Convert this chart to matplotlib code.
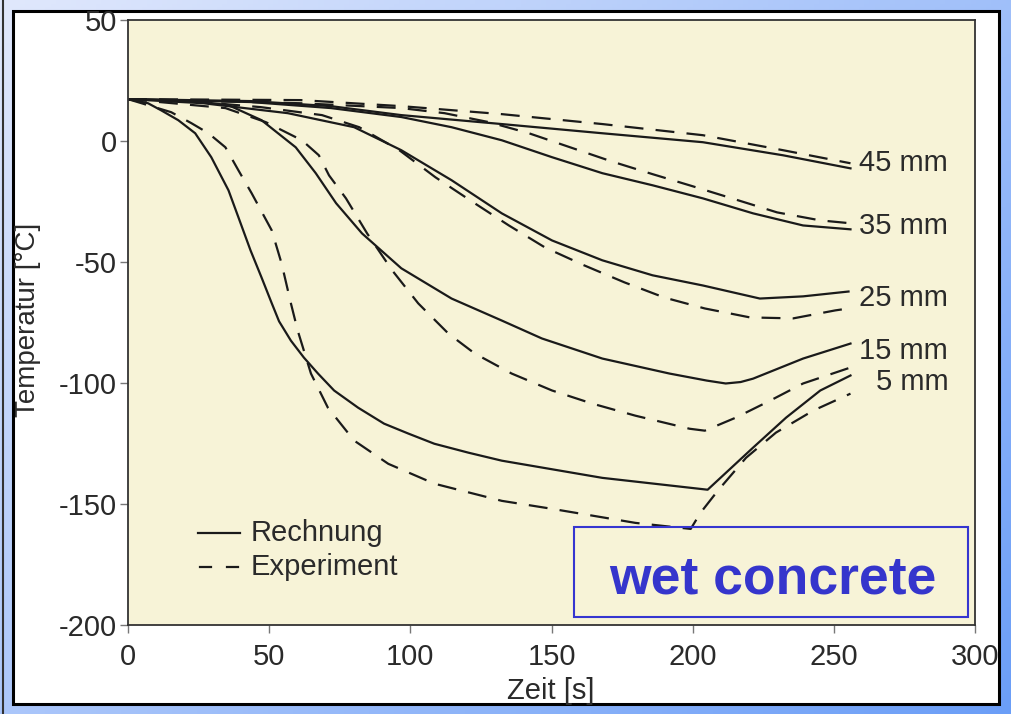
import numpy as np
import matplotlib
matplotlib.use("Agg")
import matplotlib.pyplot as plt
from matplotlib.patches import Rectangle

plt.rcParams['font.family'] = ['Liberation Sans', 'DejaVu Sans']

# ---- data ----
t_calc_5 = [0, 7.1, 11.7, 17.8, 23.8, 29.5, 35.6, 39.1, 43.4, 47.3, 50.9, 53.5, 57.7, 62.3, 67.3, 73, 81.5, 90.7, 99.3, 108.5, 120.6, 132.4, 168, 205.3, 221.4, 233.1, 245.2, 255.9]
T_calc_5 = [17.3, 15.6, 12.7, 8.6, 3.2, -6.7, -20.4, -31.5, -45.2, -56.4, -67.0, -74.5, -82.5, -89.5, -96.1, -103.1, -110.2, -116.8, -120.9, -125.1, -128.8, -132.1, -139.2, -144.1, -126.7, -114.3, -103.1, -96.9]

t_exp_5 = [0, 15.3, 22.4, 28.5, 34.5, 39.1, 43.8, 50.9, 54.4, 57.7, 60.1, 64.8, 70.8, 80.1, 92.2, 108.5, 132.4, 150.2, 179.7, 199.3, 202.8, 208.9, 218.9, 229.5, 242.7, 255.9]
T_exp_5 = [17.3, 11.9, 7.4, 3.2, -2.6, -12.1, -21.6, -36.9, -50.6, -67.1, -78.3, -96.1, -110.2, -123.8, -133.4, -141.6, -148.7, -152.0, -157.8, -160.3, -153.6, -144.5, -130.9, -120.5, -111.4, -104.4]

t_calc_15 = [0, 23.8, 35.6, 47.3, 59.4, 66.5, 73.7, 82.9, 96.8, 114.6, 132.4, 146.6, 168.0, 191.8, 205.0, 211.7, 217.0, 221.4, 239.1, 255.9]
T_calc_15 = [17.3, 16.5, 14.8, 8.6, -2.6, -13.3, -25.7, -38.2, -52.6, -65.1, -74.2, -81.6, -89.9, -96.1, -99.0, -100.2, -99.6, -98.2, -89.9, -83.7]

t_exp_15 = [0, 34.5, 48.8, 61.6, 67.6, 71.2, 77.2, 84.7, 93.6, 102.8, 113.5, 122.8, 135.9, 150.2, 164.4, 179.7, 198.9, 204.3, 215.3, 227.4, 239.1, 255.9]
T_exp_15 = [17.3, 13.6, 7.8, 0.3, -5.9, -14.2, -23.7, -38.2, -53.5, -67.1, -79.6, -87.8, -96.1, -103.1, -108.5, -113.5, -118.9, -119.7, -114.3, -107.3, -100.2, -93.6]

t_calc_25 = [0, 26.7, 56.6, 80.1, 96.8, 114.6, 132.4, 150.2, 168.0, 185.8, 203.6, 223.8, 239.1, 255.2]
T_calc_25 = [17.3, 15.6, 11.5, 5.7, -3.8, -16.2, -29.9, -41.1, -49.3, -55.5, -59.7, -65.1, -64.2, -62.2]

t_exp_25 = [0, 25.6, 47.0, 68.7, 81.9, 96.1, 108.9, 121.7, 134.9, 147.7, 161.6, 175.8, 190.0, 204.3, 220.3, 235.6, 250.5, 255.2]
T_exp_25 = [17.3, 16.1, 14.0, 10.7, 5.7, -3.8, -15.0, -24.9, -34.9, -44.0, -51.4, -58.4, -64.7, -69.2, -72.9, -73.3, -70.0, -69.2]

t_calc_35 = [0, 43.4, 71.9, 96.8, 114.6, 132.4, 150.2, 168.0, 185.8, 203.6, 221.4, 239.1, 255.9]
T_calc_35 = [17.3, 16.1, 13.6, 9.9, 5.7, 0.3, -6.7, -13.3, -18.3, -23.7, -29.9, -34.9, -36.5]

t_exp_35 = [0, 61.2, 96.8, 112.1, 127.8, 142.0, 156.6, 171.2, 185.8, 200.0, 215.0, 229.9, 245.2, 255.9]
T_exp_35 = [17.3, 15.6, 13.6, 11.5, 7.8, 3.2, -2.6, -8.4, -13.7, -18.7, -24.1, -29.5, -32.8, -34.0]

t_calc_45 = [0, 43.4, 71.9, 96.8, 132.4, 168, 203.6, 232.0, 255.9]
T_calc_45 = [17.3, 16.5, 14.4, 10.7, 7.0, 3.2, -0.5, -5.9, -11.3]

t_exp_45 = [0, 61.2, 96.8, 132.4, 168.0, 203.6, 232.0, 255.9]
T_exp_45 = [17.3, 16.9, 14.4, 11.1, 7.0, 2.4, -3.8, -9.2]

depth_labels = ['45 mm', '35 mm', '25 mm', '15 mm', '5 mm']
label_y = [-9.2, -35.3, -64.7, -86.6, -99.4]

legend_labels = ['Rechnung', 'Experiment']

x_ticks = [0, 50, 100, 150, 200, 250, 300]
y_ticks = [50, 0, -50, -100, -150, -200]

# ---- figure ----
W, H = 1011, 714
fig = plt.figure(figsize=(W / 100, H / 100), dpi=100)

# gradient background
bg = fig.add_axes([0, 0, 1, 1], zorder=-10)
bg.set_axis_off()
xx, yy = np.meshgrid(np.linspace(0, 1, 200), np.linspace(0, 1, 200))
g = np.clip(0.55 * xx + 0.45 * yy, 0, 1)
c0 = np.array([0.88, 0.91, 0.99])
c1 = np.array([0.42, 0.62, 0.97])
img = c0[None, None, :] * (1 - g[..., None]) + c1[None, None, :] * g[..., None]
bg.imshow(img, extent=[0, 1, 0, 1], aspect='auto', origin='upper')
bg.set_xlim(0, 1)
bg.set_ylim(0, 1)
bg.add_patch(Rectangle((13 / W, 1 - 704 / H), (999 - 13) / W, (704 - 11) / H,
                       facecolor='white', edgecolor='black', lw=2.2, zorder=2))
bg.plot([3 / W, 3 / W], [0, 1], color='#333333', lw=1.5, zorder=3)

ax = fig.add_axes([128 / W, 1 - 625 / H, (975 - 128) / W, (625 - 20) / H])
ax.set_facecolor('#f7f3d7')
ax.set_xlim(0, 300)
ax.set_ylim(-200, 50)

FS = 21
TXT = '#2a2a2a'
lw = 1.6
dash = (0, (8.5, 5.5))
series = [(t_calc_5, T_calc_5, t_exp_5, T_exp_5),
          (t_calc_15, T_calc_15, t_exp_15, T_exp_15),
          (t_calc_25, T_calc_25, t_exp_25, T_exp_25),
          (t_calc_35, T_calc_35, t_exp_35, T_exp_35),
          (t_calc_45, T_calc_45, t_exp_45, T_exp_45)]
for tc, Tc, te, Te in series:
    ax.plot(tc, Tc, color='#1a1a1a', lw=lw, solid_joinstyle='round')
    ax.plot(te, Te, color='#1a1a1a', lw=lw, ls=dash)

for lab, yv in zip(depth_labels, label_y):
    ax.text(290.5, yv, lab, ha='right', va='center', fontsize=FS, color=TXT)

ax.set_xticks(x_ticks)
ax.set_yticks(y_ticks)
ax.set_xticklabels([str(v) for v in x_ticks])
ax.set_yticklabels([str(v) for v in y_ticks])
ax.tick_params(direction='out', length=6, width=1, color='#777777',
               labelsize=FS, labelcolor=TXT)
ax.tick_params(axis='x', pad=7)
ax.tick_params(axis='y', pad=2)
for s in ax.spines.values():
    s.set_color('#333333')
    s.set_linewidth(1.3)

ax.set_xlabel('Zeit [s]', fontsize=FS, color=TXT)
ax.set_ylabel('Temperatur [°C]', fontsize=20, color=TXT)
ax.xaxis.set_label_coords((551 - 128) / 847, (625 - 691) / 605)
ax.yaxis.set_label_coords((28 - 128) / 847, (625 - 320) / 605)
ax.xaxis.label.set_va('center')
ax.yaxis.label.set_va('center')

# legend (drawn in axes coordinates)
tr = ax.transAxes
y_leg = [(625 - 533) / 605, (625 - 567) / 605]
x0, x1 = (198 - 128) / 847, (240 - 128) / 847
ax.plot([x0, x1], [y_leg[0]] * 2, transform=tr, color='#1a1a1a', lw=lw)
ax.plot([(200 - 128) / 847, (211 - 128) / 847], [y_leg[1]] * 2, transform=tr, color='#1a1a1a', lw=lw)
ax.plot([(227 - 128) / 847, (238 - 128) / 847], [y_leg[1]] * 2, transform=tr, color='#1a1a1a', lw=lw)
for lab, yl in zip(legend_labels, y_leg):
    ax.text((251 - 128) / 847, yl, lab, transform=tr, ha='left', va='center',
            fontsize=FS, color=TXT)

# "wet concrete" box
ax.add_patch(Rectangle((158.0, -196.7), 139.5, 37.3, facecolor='none',
                       edgecolor='#3535d0', lw=1.5, zorder=5))
ax.text(228.5, -186.8, 'wet concrete', ha='center', va='baseline', fontsize=38.5,
        fontweight='bold', color='#3535cc', zorder=6)

fig.savefig('out.png', dpi=100)
